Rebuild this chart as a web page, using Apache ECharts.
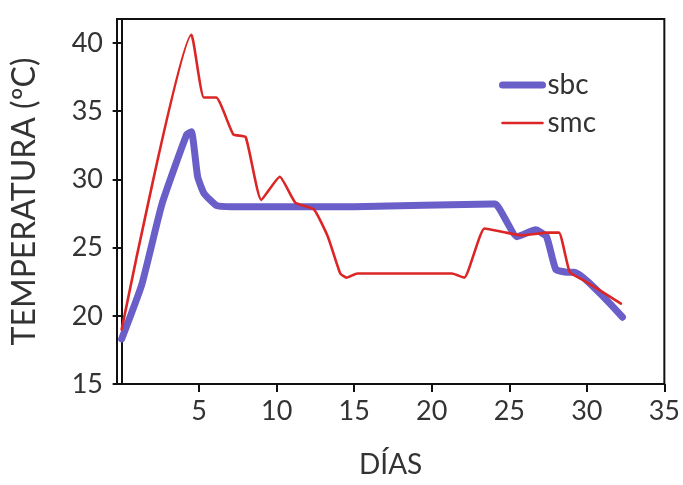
<!DOCTYPE html>
<html>
<head>
<meta charset="utf-8">
<script src="https://cdn.jsdelivr.net/npm/echarts@6/dist/echarts.min.js"></script>
<style>
  html, body { margin: 0; padding: 0; background: #fff; }
  #chart { width: 683px; height: 485px; }
</style>
</head>
<body>
<div id="chart"></div>
<script>
// values
const sbc = [
  [0, 18.3], [1.3, 22.3], [2.6, 28.2], [4.2, 33.3], [4.5, 33.5],
  [4.9, 30.2], [5.3, 29.0], [6.1, 28.1], [7.1, 28.0], [15, 28.0],
  [23.9, 28.2], [24.1, 28.2], [25.5, 25.8], [26.7, 26.3], [27.4, 25.8],
  [28.0, 23.4], [28.7, 23.2], [29.2, 23.2], [32.3, 19.9]
]
const smc = [
  [0, 19.0], [4.5, 40.6], [5.3, 36.0], [6.1, 36.0], [7.2, 33.3],
  [8.0, 33.1], [9.0, 28.5], [10.2, 30.2], [11.2, 28.3], [12.4, 27.8],
  [13.3, 25.8], [14.1, 23.1], [14.5, 22.8], [15.2, 23.1], [21.3, 23.1],
  [22.1, 22.8], [23.4, 26.4], [24.8, 26.1], [25.8, 25.9], [27.5, 26.1],
  [28.2, 26.1], [28.9, 23.2], [29.8, 22.6], [32.2, 20.9]
]
const xTicks = [5, 10, 15, 20, 25, 30, 35]
const yTicks = [15, 20, 25, 30, 35, 40]

const font = 'Lato, "Open Sans", sans-serif'
const blue = '#6a5ec9'
const red = '#dc2626'
const chart = echarts.init(document.getElementById('chart'))
chart.setOption({
  animation: false,
  backgroundColor: '#fff',
  grid: {
    left: 117, right: 14, top: 19, bottom: 101,
    show: true, borderColor: '#111', borderWidth: 2
  },
  legend: {
    orient: 'vertical',
    left: 494, top: 66,
    itemWidth: 40, itemHeight: 14, itemGap: 10,
    itemStyle: { opacity: 0 },
    textStyle: { fontFamily: font, fontSize: 28, color: '#333' },
    data: [
      { name: 'sbc', lineStyle: { width: 7, color: blue } },
      { name: 'smc', lineStyle: { width: 2.6, color: red } }
    ]
  },
  xAxis: {
    type: 'value',
    min: -0.3, max: 35,
    name: 'DÍAS',
    nameLocation: 'middle',
    nameGap: 67,
    nameTextStyle: { fontFamily: font, fontSize: 28, color: '#333' },
    splitLine: { show: false },
    axisLine: { lineStyle: { color: '#111', width: 2 } },
    axisTick: { customValues: xTicks, length: 8, lineStyle: { color: '#111', width: 2 } },
    axisLabel: { customValues: xTicks, margin: 14, fontFamily: font, fontSize: 27, color: '#333' }
  },
  yAxis: {
    type: 'value',
    min: 15, max: 41.76,
    name: 'TEMPERATURA (ºC)',
    nameLocation: 'middle',
    nameGap: 76,
    nameTextStyle: { fontFamily: font, fontSize: 32, color: '#333' },
    splitLine: { show: false },
    axisLine: { show: true, lineStyle: { color: '#111', width: 2 } },
    axisTick: { show: true, customValues: yTicks, length: 9, lineStyle: { color: '#111', width: 2 } },
    axisLabel: { customValues: yTicks, margin: 14, fontFamily: font, fontSize: 27, color: '#333' }
  },
  series: [
    {
      name: 'sbc',
      type: 'line',
      data: sbc,
      symbol: 'none',
      smooth: 0.15,
      color: blue,
      lineStyle: { width: 7, color: blue, join: 'round', cap: 'round' },
      z: 2
    },
    {
      name: 'smc',
      type: 'line',
      data: smc,
      symbol: 'none',
      smooth: 0.15,
      color: red,
      lineStyle: { width: 2.6, color: red, join: 'round', cap: 'round' },
      z: 3
    }
  ]
})
window.addEventListener('resize', () => chart.resize())
</script>
</body>
</html>
